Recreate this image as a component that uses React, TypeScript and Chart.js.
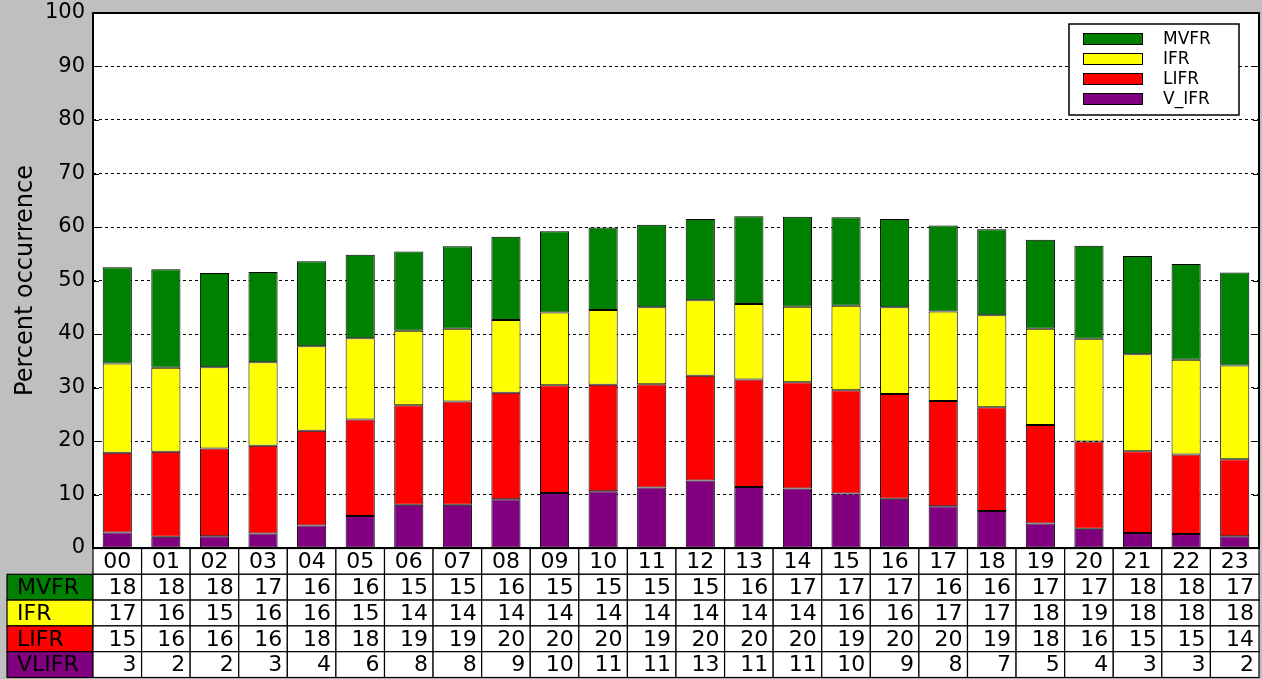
import React, { useEffect, useRef } from "react";
import { Chart, registerables } from "chart.js";

Chart.register(...registerables);

const hours = ["00","01","02","03","04","05","06","07","08","09","10","11","12","13","14","15","16","17","18","19","20","21","22","23"];
const mvfr = [18.0,18.4,17.6,16.9,15.9,15.6,14.8,15.4,15.6,15.2,15.4,15.4,15.2,16.4,16.8,16.5,16.5,16.1,16.1,16.6,17.4,18.4,17.9,17.4];
const ifr = [16.7,15.7,15.2,15.6,15.8,15.2,13.9,13.6,13.6,13.6,14.0,14.4,14.1,14.1,14.1,15.8,16.2,16.7,17.2,18.0,19.2,18.1,17.7,17.5];
const lifr = [14.9,15.9,16.4,16.4,17.7,18.0,18.6,19.3,19.9,20.1,19.9,19.3,19.6,20.1,19.9,19.3,19.6,19.7,19.4,18.4,16.3,15.3,14.9,14.4];
const vlifr = [2.9,2.1,2.2,2.7,4.2,6.0,8.1,8.1,9.1,10.3,10.6,11.3,12.6,11.4,11.1,10.2,9.2,7.8,6.9,4.6,3.6,2.8,2.6,2.2];

const legendLabels = ["MVFR", "IFR", "LIFR", "V_IFR"];
const tableLabels = ["MVFR", "IFR", "LIFR", "VLIFR"];
const yAxisTitle = "Percent occurrence";

const GREEN = "#008000";
const YELLOW = "#ffff00";
const RED = "#ff0000";
const PURPLE = "#800080";
const FONT = "'DejaVu Sans', sans-serif";

const tableRows = [
  { label: tableLabels[0], color: GREEN, values: mvfr },
  { label: tableLabels[1], color: YELLOW, values: ifr },
  { label: tableLabels[2], color: RED, values: lifr },
  { label: tableLabels[3], color: PURPLE, values: vlifr },
];
const legendItems = [
  { label: legendLabels[0], color: GREEN },
  { label: legendLabels[1], color: YELLOW },
  { label: legendLabels[2], color: RED },
  { label: legendLabels[3], color: PURPLE },
];

const decorPlugin = {
  id: "decor",
  beforeDraw(chart: any) {
    const { ctx, chartArea } = chart;
    ctx.save();
    ctx.fillStyle = "#ffffff";
    ctx.fillRect(chartArea.left, chartArea.top, chartArea.right - chartArea.left, chartArea.bottom - chartArea.top);
    ctx.restore();
  },
  afterDraw(chart: any) {
    const { ctx, chartArea } = chart;
    const ys = chart.scales.y;
    const xs = chart.scales.x;
    ctx.save();
    // tick marks inside
    ctx.strokeStyle = "#000";
    ctx.lineWidth = 1;
    for (let v = 0; v <= 100; v += 10) {
      const y = Math.round(ys.getPixelForValue(v)) + 0.5;
      ctx.beginPath();
      ctx.moveTo(chartArea.left, y);
      ctx.lineTo(chartArea.left + 6, y);
      ctx.moveTo(chartArea.right, y);
      ctx.lineTo(chartArea.right - 6, y);
      ctx.stroke();
    }
    // frame
    ctx.lineWidth = 2;
    ctx.strokeRect(chartArea.left, chartArea.top, chartArea.right - chartArea.left, chartArea.bottom - chartArea.top);

    // table
    const n = hours.length;
    const colW = (chartArea.right - chartArea.left) / n;
    const top = chartArea.bottom + 0.5;
    const rowH = 25.8;
    const labelLeft = 7;
    ctx.lineWidth = 1.2;
    ctx.font = `22px ${FONT}`;
    ctx.textBaseline = "middle";
    // header row
    for (let i = 0; i < n; i++) {
      const cx = xs.getPixelForValue(i);
      const l = cx - colW / 2;
      ctx.fillStyle = "#fff";
      ctx.fillRect(l, top, colW, rowH);
      ctx.strokeStyle = "#000";
      ctx.strokeRect(l, top, colW, rowH);
      ctx.fillStyle = "#000";
      ctx.textAlign = "center";
      ctx.fillText(hours[i], cx, top + rowH / 2 + 1);
    }
    tableRows.forEach((row, r) => {
      const y = top + rowH * (r + 1);
      ctx.fillStyle = row.color;
      ctx.fillRect(labelLeft, y, chartArea.left - labelLeft, rowH);
      ctx.strokeStyle = "#000";
      ctx.strokeRect(labelLeft, y, chartArea.left - labelLeft, rowH);
      ctx.fillStyle = "#000";
      ctx.textAlign = "left";
      ctx.fillText(row.label, labelLeft + 10, y + rowH / 2 + 1);
      for (let i = 0; i < n; i++) {
        const cx = xs.getPixelForValue(i);
        const l = cx - colW / 2;
        ctx.fillStyle = "#fff";
        ctx.fillRect(l, y, colW, rowH);
        ctx.strokeStyle = "#000";
        ctx.strokeRect(l, y, colW, rowH);
        ctx.fillStyle = "#000";
        ctx.textAlign = "right";
        ctx.fillText(String(Math.round(row.values[i])), l + colW - 5, y + rowH / 2 + 1);
      }
    });

    // legend
    const bx = 1069, by = 24, bw = 170, bh = 91;
    ctx.fillStyle = "#fff";
    ctx.fillRect(bx, by, bw, bh);
    ctx.strokeStyle = "#000";
    ctx.lineWidth = 1.5;
    ctx.strokeRect(bx, by, bw, bh);
    ctx.font = `17px ${FONT}`;
    ctx.textAlign = "left";
    ctx.textBaseline = "middle";
    legendItems.forEach((it, k) => {
      const cy = 39 + k * 20;
      ctx.fillStyle = it.color;
      ctx.fillRect(1083, cy - 5.5, 59, 11);
      ctx.lineWidth = 1;
      ctx.strokeStyle = "#000";
      ctx.strokeRect(1083.5, cy - 5.5, 59, 11);
      ctx.fillStyle = "#000";
      ctx.fillText(it.label, 1163, cy + 1);
    });
    ctx.restore();
  },
};

export default function App() {
  const ref = useRef<HTMLCanvasElement | null>(null);
  useEffect(() => {
    if (!ref.current) return;
    const ds = (label: string, data: number[], color: string) => ({
      label,
      data,
      backgroundColor: color,
      borderColor: "#000",
      borderWidth: 1,
      borderSkipped: false,
      barPercentage: 0.6,
      categoryPercentage: 1.0,
    });
    const chart = new Chart(ref.current, {
      type: "bar",
      data: {
        labels: hours,
        datasets: [
          ds(tableLabels[3], vlifr, PURPLE),
          ds(tableLabels[2], lifr, RED),
          ds(tableLabels[1], ifr, YELLOW),
          ds(tableLabels[0], mvfr, GREEN),
        ],
      },
      options: {
        responsive: false,
        animation: false,
        layout: { padding: { left: 0, right: 3, top: 13, bottom: 131 } },
        plugins: { legend: { display: false }, tooltip: { enabled: false }, title: { display: false } },
        scales: {
          x: { stacked: true, display: false, grid: { display: false } },
          y: {
            stacked: true,
            min: 0,
            max: 100,
            z: 1,
            afterFit: (scale: any) => {
              scale.width = 93;
              scale.paddingTop = 0;
              scale.paddingBottom = 0;
            },
            ticks: { stepSize: 10, color: "#000", padding: 8, font: { family: FONT, size: 21 } },
            grid: {
              drawTicks: false,
              lineWidth: 1,
              color: (c: any) => (c.tick && c.tick.value > 0 && c.tick.value < 100 ? "#000" : "rgba(0,0,0,0)"),
            },
            border: { display: false, dash: [3, 3] },
            title: {
              display: true,
              text: yAxisTitle,
              color: "#000",
              font: { family: FONT, size: 24 },
              padding: { top: 11, bottom: 0 },
            },
          },
        },
      },
      plugins: [decorPlugin],
    } as any);
    return () => chart.destroy();
  }, []);
  return (
    <div style={{ position: "absolute", left: 0, top: 0, width: 1262, height: 679, background: "#bfbfbf", overflow: "hidden" }}>
      <canvas ref={ref} width={1262} height={679} style={{ display: "block" }} />
    </div>
  );
}
